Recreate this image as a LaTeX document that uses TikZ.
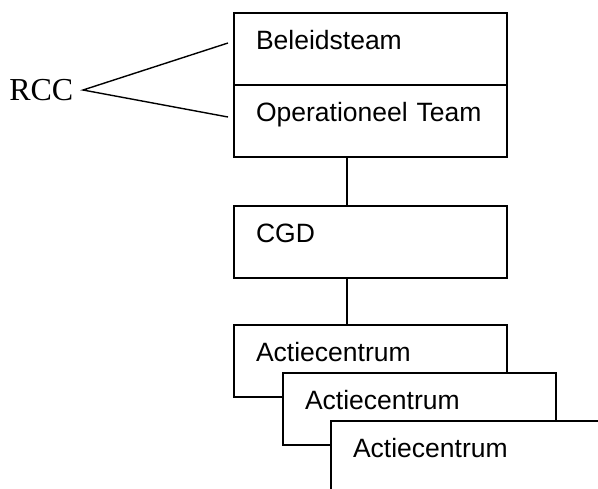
\documentclass[tikz,border=0pt]{standalone}
\usepackage{fontspec}
\setmainfont{Liberation Sans}
\newfontfamily\timesfont{Liberation Serif}
\usetikzlibrary{positioning}
\begin{document}
\begin{tikzpicture}[x=.5pt,y=-.5pt,line width=.7pt,
        box/.style={draw, fill=white, anchor=north west, align=left,
          text width=114.5pt, inner xsep=11pt, inner ysep=0pt, outer sep=0pt,
          text height=18pt, text depth=18pt,
          font=\fontsize{13.25}{15}\selectfont},
        label rcc/.style={anchor=east, inner xsep=4.5pt,
          font=\timesfont\fontsize{16}{19}\selectfont}]
  \useasboundingbox (0,0) rectangle (598,488);

  % RCC
  \node[box                     ] (beleid) at (234,13) {Beleidsteam};
  \node[box,below=0pt of beleid ] (oper)             {Operationeel Team};
  \node[label rcc               ] (rcc)    at (83,90)  {RCC};
  \coordinate (rccup)   at (228,43);
  \coordinate (rccdown) at (228,117);
  \draw (rccup) -- (rcc.east) -- (rccdown);

  % CGD
  \node[box,below=24.5pt of oper] (cgd) {CGD};
  \draw ([xshift=-11.75pt]oper.south) -- ([xshift=-11.75pt]cgd.north);

  % actiecentra
  \node[box,below=23.5pt of cgd] (actie1) {Actiecentrum};
  \draw ([xshift=-11.75pt]cgd.south) -- ([xshift=-11.75pt]actie1.north);
  \node[box] (actie2) at ([shift={(49,48)}]actie1.north west) {Actiecentrum};
  \node[box] (actie3) at ([shift={(48,48)}]actie2.north west) {Actiecentrum};
\end{tikzpicture}
\end{document}
